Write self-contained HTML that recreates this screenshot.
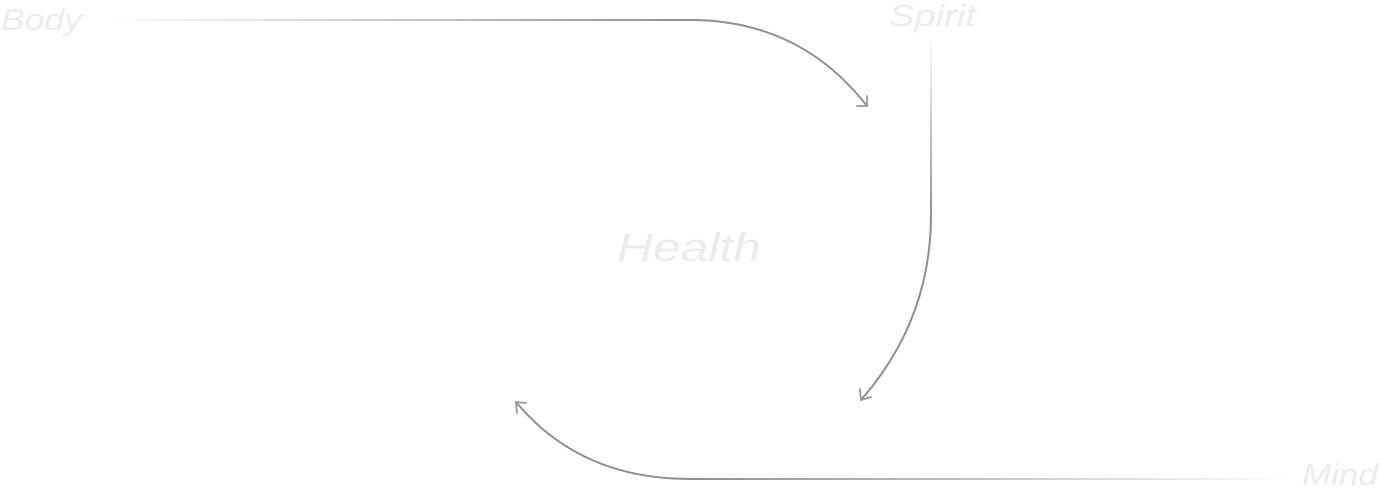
<!DOCTYPE html>
<html><head><meta charset="utf-8"><style>
html,body{margin:0;padding:0;background:#fff;width:1380px;height:491px;overflow:hidden}
text{font-family:"Liberation Sans",sans-serif;font-style:italic;fill:#ececec}
</style></head><body>
<svg width="1380" height="491" viewBox="0 0 1380 491">
<defs>
<linearGradient id="g1" gradientUnits="userSpaceOnUse" x1="105" y1="0" x2="700" y2="0">
<stop offset="0" stop-color="#fff"/><stop offset="1" stop-color="#8f8f8f"/></linearGradient>
<linearGradient id="g2" gradientUnits="userSpaceOnUse" x1="0" y1="35" x2="0" y2="220">
<stop offset="0" stop-color="#fff"/><stop offset="1" stop-color="#8f8f8f"/></linearGradient>
<linearGradient id="g3" gradientUnits="userSpaceOnUse" x1="1295" y1="0" x2="690" y2="0">
<stop offset="0" stop-color="#fff"/><stop offset="1" stop-color="#8f8f8f"/></linearGradient>
</defs>
<text x="1" y="30" font-size="31" textLength="81" lengthAdjust="spacingAndGlyphs">Body</text>
<text x="889" y="26" font-size="31" textLength="87" lengthAdjust="spacingAndGlyphs">Spirit</text>
<text x="617" y="261" font-size="40" textLength="144" lengthAdjust="spacingAndGlyphs">Health</text>
<text x="1302" y="485" font-size="31" textLength="76" lengthAdjust="spacingAndGlyphs">Mind</text>
<g fill="none" stroke-width="2" stroke-linecap="round" stroke-linejoin="round">
<path d="M105 20 H690 Q800 20 867 106" stroke="url(#g1)"/>
<path d="M867 96 L867 106 L857 106" stroke="#999" stroke-width="1.8"/>
<path d="M931 38 V215 Q931 320 861 400" stroke="url(#g2)"/>
<path d="M860 389 L861 400 L871 397" stroke="#999" stroke-width="1.8"/>
<path d="M1295 479 H690 Q580 479 516 402" stroke="url(#g3)"/>
<path d="M517 413 L516 402 L526 403" stroke="#999" stroke-width="1.8"/>
</g>
</svg>
</body></html>
